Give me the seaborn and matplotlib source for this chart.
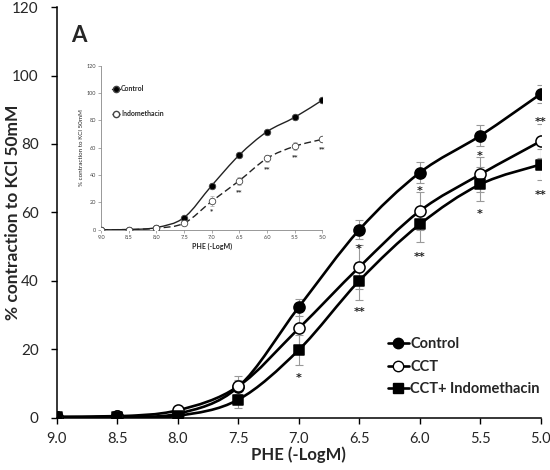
import numpy as np
import pandas as pd
import matplotlib.pyplot as plt
from matplotlib.path import Path
from matplotlib.patches import PathPatch
from matplotlib.lines import Line2D
import seaborn as sns

# concentrations (-LogM)
doses = [9.0, 8.5, 8.0, 7.5, 7.0, 6.5, 6.0, 5.5, 5.0]

# main panel
control = [0.3, 0.5, 1.2, 9.0, 32.3, 54.9, 71.6, 82.4, 94.6]
control_err = [0.3, 0.4, 0.5, 2.0, 2.5, 2.8, 3.0, 3.0, 2.5]
cct = [0.2, 0.4, 2.2, 9.2, 26.1, 44.0, 60.4, 71.1, 80.8]
cct_err = [0.2, 0.3, 0.6, 3.0, 5.0, 6.5, 5.5, 5.0, 5.0]
cct_indo = [0.1, 0.2, 0.6, 5.3, 19.8, 40.0, 56.5, 68.2, 74.0]
cct_indo_err = [0.2, 0.3, 0.5, 2.5, 4.5, 5.5, 5.0, 5.0, 4.5]
# significance marks: (dose, y, text)
stars_main = [(7.0, 12.5, "*"), (6.5, 50.2, "*"), (6.5, 32.0, "**"),
              (6.0, 67.2, "*"), (6.0, 47.9, "**"), (5.5, 77.5, "*"),
              (5.5, 60.4, "*"), (5.0, 87.3, "**"), (5.0, 66.1, "**")]

# inset panel
inset_control = [0.1, 0.2, 1.7, 9.0, 32.4, 54.8, 71.8, 82.3, 94.9]
inset_control_err = [0.2, 0.2, 0.4, 1.0, 1.5, 1.5, 1.5, 1.5, 1.0]
inset_indo = [0.1, 0.2, 1.2, 4.9, 20.9, 36.0, 52.3, 61.1, 66.2]
inset_indo_err = [0.2, 0.2, 0.4, 1.0, 3.5, 3.0, 2.5, 3.0, 2.0]
stars_inset = [(7.0, 14.0, "*"), (6.5, 28.0, "**"), (6.0, 44.5, "**"),
               (5.5, 53.5, "**"), (5.0, 59.5, "**")]


def smooth_curve(ax, x, y, **kw):
    # Excel-like smoothed line: Catmull-Rom segments as cubic Bezier
    p = np.column_stack([x, y]).astype(float)
    verts = [p[0]]
    codes = [Path.MOVETO]
    for i in range(len(p) - 1):
        p0 = p[i - 1] if i > 0 else p[i]
        p3 = p[i + 2] if i + 2 < len(p) else p[i + 1]
        c1 = p[i] + (p[i + 1] - p0) / 6
        c2 = p[i + 1] - (p3 - p[i]) / 6
        verts += [c1, c2, p[i + 1]]
        codes += [Path.CURVE4] * 3
    ax.add_patch(PathPatch(Path(verts, codes), fill=False, **kw))


sns.set_theme(style="ticks")
plt.rcParams['font.family'] = ['Lato', 'DejaVu Sans']

df = pd.DataFrame({
    "dose": doses * 3,
    "value": control + cct + cct_indo,
    "err": control_err + cct_err + cct_indo_err,
    "group": ["Control"] * 9 + ["CCT"] * 9 + ["CCT+ Indomethacin"] * 9,
})

fig = plt.figure(figsize=(5.5, 4.7), dpi=100)
ax = fig.add_axes([0.103, 0.111, 0.88, 0.874])

styles = {
    "Control": dict(marker="o", face="black", size=64),
    "CCT": dict(marker="o", face="white", size=64),
    "CCT+ Indomethacin": dict(marker="s", face="black", size=60),
}
for g, st in styles.items():
    sub = df[df["group"] == g]
    ax.errorbar(sub["dose"], sub["value"], yerr=sub["err"], fmt="none",
                ecolor="#999999", elinewidth=0.8, capsize=3, capthick=0.8, zorder=2)
    smooth_curve(ax, sub["dose"], sub["value"], edgecolor="black", lw=1.9, zorder=3)
    sns.scatterplot(data=sub, x="dose", y="value", marker=st["marker"], s=st["size"],
                    color=st["face"], edgecolor="black", linewidth=1.1, zorder=4,
                    ax=ax, legend=False)

for xd, yv, t in stars_main:
    ax.text(xd, yv - 1.0, t, ha="center", va="center", fontsize=8, fontweight="bold",
            family="DejaVu Sans", color="#222222")

ax.set_xlim(9.0, 5.0)
ax.set_ylim(0, 120)
ax.set_xticks(doses)
ax.set_xticklabels([f"{d:.1f}" for d in doses])
ax.set_yticks(range(0, 121, 20))
ax.tick_params(axis="y", labelsize=11, length=4, width=1, color="black", pad=9)
ax.tick_params(axis="x", labelsize=10.5, length=4, width=1, color="black", pad=6)
ax.set_xlabel("PHE (-LogM)", fontsize=12, fontweight="bold")
ax.set_ylabel("% contraction to KCl 50mM", fontsize=12.5, fontweight="bold")
ax.xaxis.set_label_coords(0.5, -0.07)
ax.yaxis.set_label_coords(-0.074, 0.5)
for s in ["top", "right"]:
    ax.spines[s].set_visible(False)
for s in ["left", "bottom"]:
    ax.spines[s].set_linewidth(1.1)
    ax.spines[s].set_color("black")
ax.text(0.029, 0.915, "A", transform=ax.transAxes, fontsize=16, fontweight="bold")

handles = [Line2D([], [], color="black", lw=1.9, marker=st["marker"],
                  markerfacecolor=st["face"], markeredgecolor="black", markersize=7.5)
           for st in styles.values()]
ax.legend(handles, list(styles.keys()), loc="lower right", bbox_to_anchor=(1.025, 0.02),
          frameon=False, handlelength=1.5, handletextpad=0.05, labelspacing=0.6,
          prop={"weight": "bold", "size": 10.5})

# inset
ins = fig.add_axes([0.184, 0.511, 0.402, 0.349])
ins.patch.set_alpha(0)
for vals, errs, face, ls in [(inset_control, inset_control_err, "black", "-"),
                            (inset_indo, inset_indo_err, "white", (0, (5, 2.5)))]:
    ins.errorbar(doses, vals, yerr=errs, fmt="none", ecolor="#aaaaaa",
                 elinewidth=0.5, capsize=1.5, capthick=0.5, zorder=2)
    smooth_curve(ins, doses, vals, edgecolor="#222222", lw=1.0, linestyle=ls, zorder=3)
    sns.scatterplot(x=doses, y=vals, marker="o", s=22, color=face, edgecolor="#444444",
                    linewidth=0.6, zorder=4, ax=ins, legend=False)
for xd, yv, t in stars_inset:
    ins.text(xd, yv, t, ha="center", va="center", fontsize=4.5, fontweight="bold",
             family="DejaVu Sans", color="#333333")
ins.set_xlim(9.0, 5.0)
ins.set_ylim(0, 120)
ins.set_xticks(doses)
ins.set_xticklabels([f"{d:.1f}" for d in doses])
ins.set_yticks(range(0, 121, 20))
ins.tick_params(labelsize=4, length=2, width=0.5, color="#888888", labelcolor="#444444", pad=1.5)
ins.set_xlabel("PHE (-LogM)", fontsize=5, fontweight="bold", labelpad=2)
ins.set_ylabel("% contraction to KCl 50mM", fontsize=4.5, labelpad=2)
for s in ["top", "right"]:
    ins.spines[s].set_visible(False)
for s in ["left", "bottom"]:
    ins.spines[s].set_linewidth(0.6)
    ins.spines[s].set_color("#888888")
ih = [Line2D([], [], color="#222222", lw=1.0, marker="o", markerfacecolor="black",
             markeredgecolor="#444444", markersize=4.5),
      Line2D([], [], color="#222222", lw=1.0, linestyle=(0, (3, 2)), marker="o",
             markerfacecolor="white", markeredgecolor="#444444", markersize=4.5)]
ins.legend(ih, ["Control", "Indomethacin"], loc="upper left", bbox_to_anchor=(0.02, 0.92),
           frameon=False, handlelength=1.2, handletextpad=0.1, labelspacing=2.6,
           prop={"weight": "bold", "size": 5})

fig.savefig("out.png", dpi=100)
